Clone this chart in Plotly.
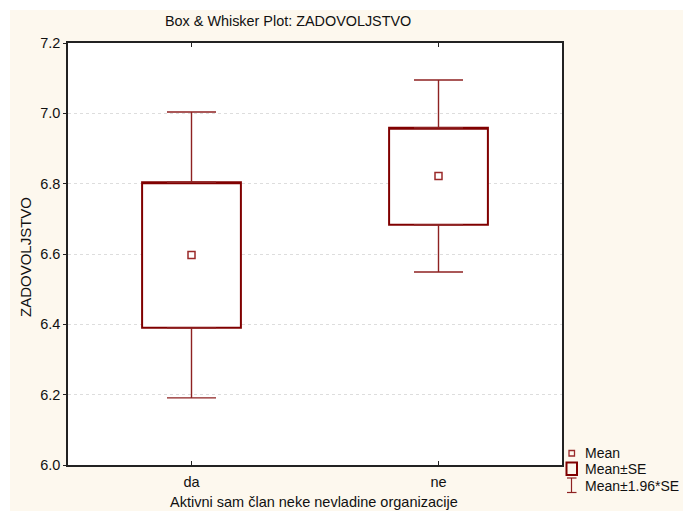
import plotly.graph_objects as go

categories = ["da", "ne"]
means = [6.597, 6.822]
box_low = [6.390, 6.683]
box_high = [6.804, 6.959]
whisk_low = [6.191, 6.549]
whisk_high = [7.004, 7.095]

W, H = 683, 511
L, R, T, B = 68, 562, 43, 465
PW, PH = R - L, B - T

def px(x):
    return (x - L) / PW

def py(y):
    return (B - y) / PH

BOX_COL = "#800000"
WH_COL = "#8E2222"
MEAN_COL = "#9A2A2A"
FONT = "Liberation Sans, Arial, sans-serif"
TXT = "#111111"

fig = go.Figure()

fig.add_trace(go.Box(
    x=categories,
    q1=box_low,
    q3=box_high,
    median=box_high,
    lowerfence=box_low,
    upperfence=box_high,
    width=0.4,
    whiskerwidth=0,
    fillcolor="white",
    line=dict(color=BOX_COL, width=2),
    showlegend=False,
    hoverinfo="skip",
))

up = [h - b for h, b in zip(whisk_high, box_high)]
dn = [b - l for b, l in zip(box_low, whisk_low)]

fig.add_trace(go.Scatter(
    x=categories, y=box_high, mode="markers",
    marker=dict(size=1, opacity=0),
    error_y=dict(type="data", symmetric=False, array=up, arrayminus=[0, 0],
                 color=WH_COL, thickness=1.4, width=24.5),
    showlegend=False, hoverinfo="skip",
))
fig.add_trace(go.Scatter(
    x=categories, y=box_low, mode="markers",
    marker=dict(size=1, opacity=0),
    error_y=dict(type="data", symmetric=False, array=[0, 0], arrayminus=dn,
                 color=WH_COL, thickness=1.4, width=24.5),
    showlegend=False, hoverinfo="skip",
))

fig.add_trace(go.Scatter(
    x=categories,
    y=means,
    mode="markers",
    marker=dict(symbol="square-open", size=7, color=MEAN_COL, line=dict(width=1.5, color=MEAN_COL)),
    showlegend=False,
    hoverinfo="skip",
))

shapes = []
shapes.append(dict(type="rect", xref="paper", yref="paper", x0=px(0), x1=px(W), y0=py(10), y1=py(0),
                   fillcolor="white", line=dict(width=0), layer="below"))
shapes.append(dict(type="rect", xref="paper", yref="paper", x0=px(0), x1=px(10), y0=py(H), y1=py(0),
                   fillcolor="white", line=dict(width=0), layer="below"))
shapes.append(dict(type="rect", xref="paper", yref="paper", x0=px(569), x1=px(574.5), y0=py(456), y1=py(450.5),
                   line=dict(color=MEAN_COL, width=1.3)))
shapes.append(dict(type="rect", xref="paper", yref="paper", x0=px(566.5), x1=px(577), y0=py(475), y1=py(462.5),
                   line=dict(color=BOX_COL, width=2)))
shapes.append(dict(type="line", xref="paper", yref="paper", x0=px(571.5), x1=px(571.5), y0=py(492.5), y1=py(478),
                   line=dict(color=WH_COL, width=1.2)))
shapes.append(dict(type="line", xref="paper", yref="paper", x0=px(567), x1=px(576.5), y0=py(478), y1=py(478),
                   line=dict(color=WH_COL, width=1.2)))
shapes.append(dict(type="line", xref="paper", yref="paper", x0=px(567), x1=px(576.5), y0=py(492.5), y1=py(492.5),
                   line=dict(color=WH_COL, width=1.2)))

def ann(text, x, y, size, xanchor="center", angle=0):
    return dict(text=text, xref="paper", yref="paper", x=px(x), y=py(y), xanchor=xanchor, yanchor="middle",
                showarrow=False, textangle=angle, font=dict(family=FONT, size=size, color=TXT))

annotations = [
    ann("Box & Whisker Plot: ZADOVOLJSTVO", 288, 21, 14.4),
    ann("Aktivni sam član neke nevladine organizacije", 314, 502.5, 14.5),
    ann("ZADOVOLJSTVO", 25, 257, 15, angle=-90),
    ann("Mean", 583, 453, 14, xanchor="left"),
    ann("Mean±SE", 583, 469, 14, xanchor="left"),
    ann("Mean±1.96*SE", 583, 486, 14, xanchor="left"),
]

fig.update_layout(
    width=W, height=H,
    margin=dict(l=L, r=W - R, t=T, b=H - B, pad=0),
    paper_bgcolor="#FDF8EE",
    plot_bgcolor="white",
    showlegend=False,
    shapes=shapes,
    annotations=annotations,
    font=dict(family=FONT, size=14, color=TXT),
)

fig.update_xaxes(
    type="category", range=[-0.5, 1.5],
    showline=True, linecolor="#222", linewidth=1.5, mirror="ticks",
    ticks="inside", ticklen=4, tickcolor="#222",
    showgrid=False, zeroline=False,
    ticklabelstandoff=3,
    tickfont=dict(family=FONT, size=14.5, color=TXT),
)
fig.update_yaxes(
    range=[6.0, 7.2], tickvals=[6.0, 6.2, 6.4, 6.6, 6.8, 7.0, 7.2],
    ticktext=["6.0", "6.2", "6.4", "6.6", "6.8", "7.0", "7.2"],
    showline=True, linecolor="#222", linewidth=1.5, mirror=True,
    ticks="outside", ticklen=3, tickcolor="#222",
    showgrid=True, gridcolor="#DDDDDD", griddash="dot", gridwidth=1,
    zeroline=False,
    tickfont=dict(family=FONT, size=14.5, color=TXT),
)

fig.write_html("out.html")
